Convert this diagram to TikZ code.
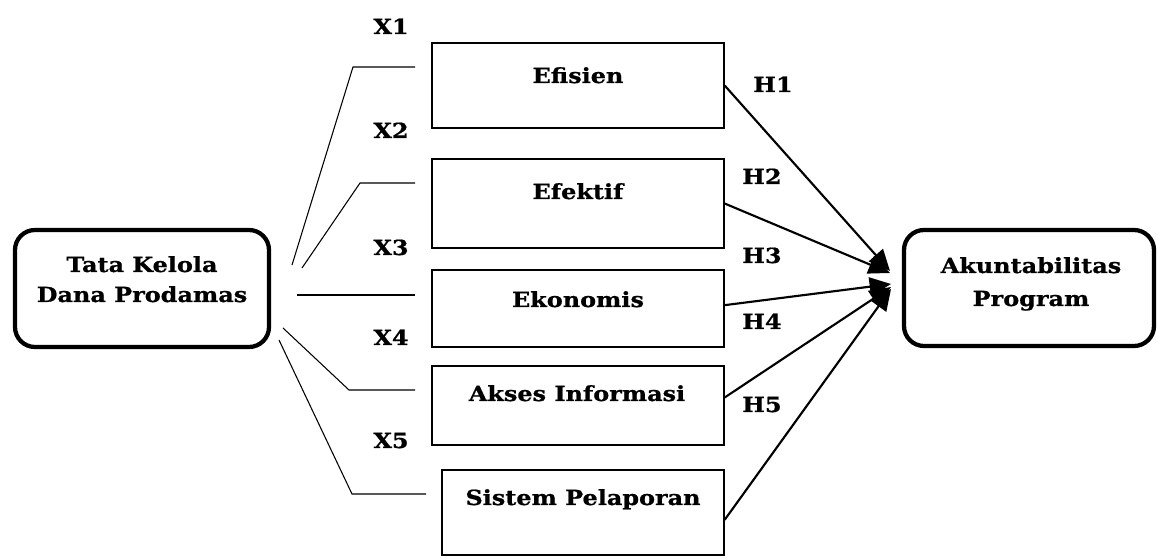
\documentclass[tikz,border=0pt]{standalone}
\usepackage{fontspec}
\setmainfont{DejaVu Serif}[FakeStretch=1.15, BoldFeatures={FakeBold=0.8}]
\usetikzlibrary{arrows.meta}
\tikzset{
  every node/.style={font=\bfseries\fontsize{15.6}{18}\selectfont},
  bigbox/.style={draw, line width=3.2pt, rounded corners=15pt},
  midbox/.style={draw, line width=1pt},
  txt/.style={anchor=base, inner sep=0pt},
  lab/.style={anchor=base, inner sep=0pt},
  link/.style={line width=0.8pt},
  arr/.style={line width=1.6pt, -{Triangle[length=16pt,width=14pt]}}
}
\begin{document}
\begin{tikzpicture}[x=0.75pt,y=-0.75pt]
\useasboundingbox (0,0) rectangle (1158,559);
% big boxes
\draw[bigbox] (15,230) rectangle (269,347);
\node[txt] (tataA) at (142,272) {Tata Kelola};
\node[txt] (tataB) at (142,302) {Dana Prodamas};
\draw[bigbox] (904,230) rectangle (1154,346);
\node[txt] (akuA) at (1031,273) {Akuntabilitas};
\node[txt] (akuB) at (1031,306) {Program};
% middle boxes
\node[midbox, minimum width=292*0.75pt, minimum height=85*0.75pt] (efisien) at (578,85.5) {};
\node[midbox, minimum width=292*0.75pt, minimum height=89*0.75pt] (efektif) at (578,203.5) {};
\node[midbox, minimum width=292*0.75pt, minimum height=77*0.75pt] (ekonomis) at (578,308.5) {};
\node[midbox, minimum width=292*0.75pt, minimum height=79*0.75pt] (akses) at (578,405.5) {};
\node[midbox, minimum width=282*0.75pt, minimum height=85*0.75pt] (sistem) at (583,512.5) {};
\node[txt] at (578,83) {Efisien};
\node[txt] at (578,199) {Efektif};
\node[txt] at (578,307) {Ekonomis};
\node[txt] at (577,401) {Akses Informasi};
\node[txt] at (583,505) {Sistem Pelaporan};
% X labels
\node[lab] at (391,34) {X1};
\node[lab] at (391,138) {X2};
\node[lab] at (391,255) {X3};
\node[lab] at (391,345) {X4};
\node[lab] at (391,448) {X5};
% H labels
\node[lab] at (773,92) {H1};
\node[lab] at (762,184) {H2};
\node[lab] at (762,263) {H3};
\node[lab] at (762,329) {H4};
\node[lab] at (762,412) {H5};
% left connectors
\coordinate (s1) at (292,265); \coordinate (b1) at (353,67); \coordinate (e1) at (415,67);
\coordinate (s2) at (302,268); \coordinate (b2) at (360,183); \coordinate (e2) at (415,183);
\coordinate (s3) at (297,295); \coordinate (e3) at (415,295);
\coordinate (s4) at (283,328); \coordinate (b4) at (349,390); \coordinate (e4) at (415,390);
\coordinate (s5) at (279,340); \coordinate (b5) at (352,494); \coordinate (e5) at (426,494);
\draw[link] (s1) -- (b1) -- (e1);
\draw[link] (s2) -- (b2) -- (e2);
\draw[link] (s3) -- (e3);
\draw[link] (s4) -- (b4) -- (e4);
\draw[link] (s5) -- (b5) -- (e5);
% arrows
\coordinate (t1) at (890,271);
\coordinate (t2) at (890,273);
\coordinate (t3) at (891,284);
\coordinate (t4) at (891,287);
\coordinate (t5) at (891,289);
\draw[arr] (efisien.east) -- (t1);
\draw[arr] (efektif.east) -- (t2);
\draw[arr] ([yshift=2.5pt]ekonomis.east) -- (t3);
\draw[arr] ([yshift=6pt]akses.east) -- (t4);
\draw[arr] ([yshift=-5.5pt]sistem.east) -- (t5);
\end{tikzpicture}
\end{document}
